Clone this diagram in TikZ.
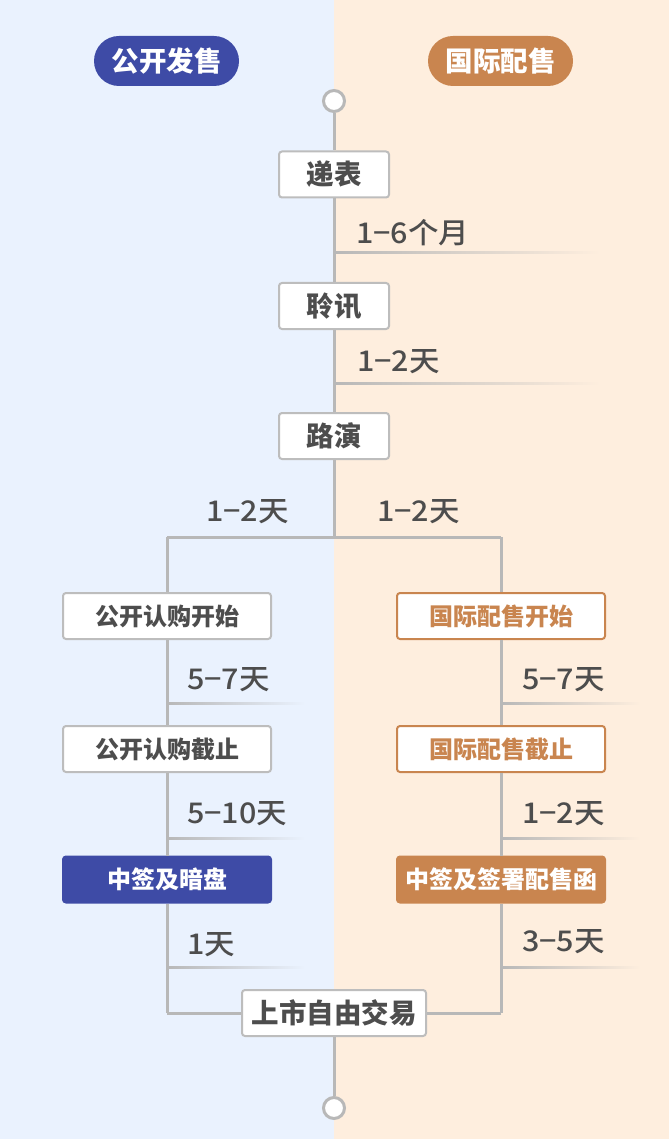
\documentclass[tikz,border=0pt]{standalone}
\usepackage{fontspec}
\setmainfont{Noto Sans CJK SC}
\newfontfamily\medfont{Noto Sans CJK SC Medium}[FakeStretch=1.07]
\usetikzlibrary{positioning}

\definecolor{bgblue}{HTML}{EAF2FE}
\definecolor{bgpeach}{HTML}{FEEEDE}
\definecolor{pubblue}{HTML}{3E4BA6}
\definecolor{intorange}{HTML}{C9854F}
\definecolor{linegray}{HTML}{B8B8B8}
\definecolor{boxgray}{HTML}{BDBDBD}
\definecolor{textgray}{HTML}{4D4D4D}

\tikzset{
  conn/.style={draw=linegray, line width=3pt},
  pill/.style={rounded corners=25pt, minimum width=145pt, minimum height=50pt,
    inner sep=0pt, text=white, font=\fontsize{27.5}{30}\selectfont\bfseries},
  endpoint/.style={circle, draw=linegray, line width=3pt, fill=white,
    minimum size=21pt, inner sep=0pt},
  mainbox/.style={draw=boxgray, line width=2pt, fill=white, rounded corners=3pt,
    minimum width=110pt, minimum height=46pt, inner sep=0pt, text=textgray,
    font=\fontsize{27.5}{30}\selectfont\bfseries},
  pubbox/.style={draw=boxgray, line width=2pt, fill=white, rounded corners=3pt,
    minimum width=208pt, minimum height=46pt, inner sep=0pt, text=textgray,
    font=\fontsize{24}{26}\selectfont\bfseries},
  intbox/.style={pubbox, draw=intorange, text=intorange},
  pubfill/.style={pubbox, draw=pubblue, fill=pubblue, text=white},
  intfill/.style={pubbox, draw=intorange, fill=intorange, text=white},
  gaplabel/.style={anchor=west, inner sep=0pt, text=textgray,
    font=\fontsize{28.5}{30}\medfont},
}

\begin{document}
\begin{tikzpicture}[x=1pt, y=-1pt]
  % two coloured halves
  \fill[bgblue] (0,0) rectangle (333.5,1139);
  \fill[bgpeach] (333.5,0) rectangle (669,1139);
  \useasboundingbox (0,0) rectangle (669,1139);

  % column headers
  \node[pill, fill=pubblue] (hpub) at (166.5,61) {公开发售};
  \node[pill, fill=intorange] (hint) at (500.5,61) {国际配售};

  % fading rules under the interval labels
  \shade[left color=linegray, right color=bgpeach] (335,252) rectangle (600,254);
  \shade[left color=linegray, right color=bgpeach] (335,382) rectangle (600,384);
  \foreach \yy in {702,837,966} {
    \shade[left color=linegray, right color=bgblue] (168,\yy) rectangle (305,\yy+2);
    \shade[left color=linegray, right color=bgpeach] (502,\yy) rectangle (640,\yy+2);
  }

  % shared stages
  \node[endpoint] (start) at (334,101) {};
  \node[mainbox] (dibiao) at (334,174.5) {递表};
  \node[mainbox] (tingxun) at (334,306) {聆讯};
  \node[mainbox] (luyan) at (334,436) {路演};
  \coordinate (fork) at (334,537);
  \coordinate (forkL) at (167,537);
  \coordinate (forkR) at (501,537);

  % public offering branch
  \node[pubbox] (pubstart) at (167,616) {公开认购开始};
  \node[pubbox] (pubend) at (167,749) {公开认购截止};
  \node[pubfill] (pubdraw) at (167,879.5) {中签及暗盘};
  \coordinate (joinL) at (167,1013);

  % international placing branch
  \node[intbox] (intstart) at (501,616) {国际配售开始};
  \node[intbox] (intend) at (501,749) {国际配售截止};
  \node[intfill] (intdraw) at (501,879.5) {中签及签署配售函};
  \coordinate (joinR) at (501,1013);

  % listing
  \node[mainbox, minimum width=184pt] (listing) at (334,1013) {上市自由交易};
  \node[endpoint] (finish) at (334,1108) {};

  % connectors
  \draw[conn] (start) -- (dibiao);
  \draw[conn] (dibiao) -- (tingxun);
  \draw[conn] (tingxun) -- (luyan);
  \draw[conn] (luyan) -- (fork);
  \draw[conn] (forkL) -- (forkR);
  \draw[conn] (forkL) -- (pubstart);
  \draw[conn] (pubstart) -- (pubend);
  \draw[conn] (pubend) -- (pubdraw);
  \draw[conn] (pubdraw) -- (joinL);
  \draw[conn] (forkR) -- (intstart);
  \draw[conn] (intstart) -- (intend);
  \draw[conn] (intend) -- (intdraw);
  \draw[conn] (intdraw) -- (joinR);
  \draw[conn] (joinL) -- (listing);
  \draw[conn] (joinR) -- (listing);
  \draw[conn] (listing) -- (finish);

  % interval labels
  \node[gaplabel] (g1) at (356,233) {1−6个月};
  \node[gaplabel] (g2) at (357,362) {1−2天};
  \node[gaplabel] (g3) at (206,512) {1−2天};
  \node[gaplabel] (g4) at (377,512) {1−2天};
  \node[gaplabel] (g5) at (187,679.5) {5−7天};
  \node[gaplabel] (g6) at (187,813.5) {5−10天};
  \node[gaplabel] (g7) at (187,944.5) {1天};
  \node[gaplabel] (g8) at (522,679.5) {5−7天};
  \node[gaplabel] (g9) at (522,813.5) {1−2天};
  \node[gaplabel] (g10) at (522,942) {3−5天};
\end{tikzpicture}
\end{document}
